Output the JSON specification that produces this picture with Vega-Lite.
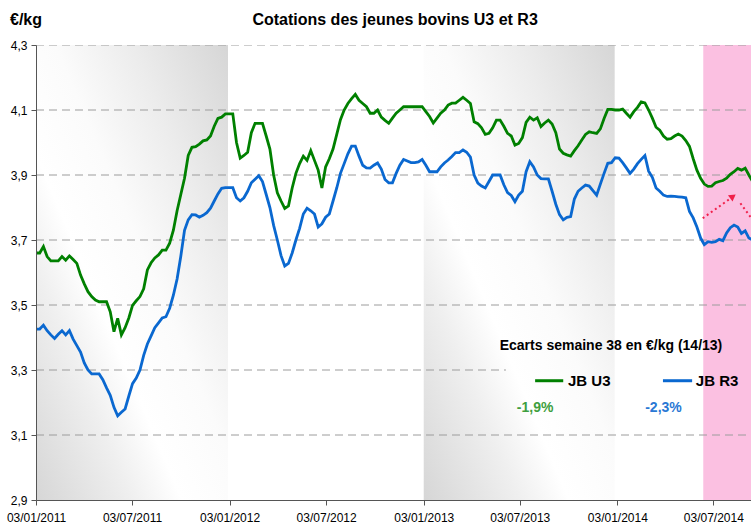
{
"$schema": "https://vega.github.io/schema/vega-lite/v6.json",
"width": 715, "height": 455,
"autosize": {"type": "none"},
"padding": {"left": 36, "top": 45, "right": 0, "bottom": 27},
"background": "white",
"config": {"view": {"stroke": null}, "font": "Liberation Sans"},
"datasets": {
"series": [
{"d":"2011-01-03","U3":3.66,"R3":3.426},{"d":"2011-01-10","U3":3.66,"R3":3.426},{"d":"2011-01-17","U3":3.68,"R3":3.438},{"d":"2011-01-24","U3":3.649,"R3":3.421},{"d":"2011-01-31","U3":3.636,"R3":3.408},{"d":"2011-02-07","U3":3.636,"R3":3.397},{"d":"2011-02-14","U3":3.636,"R3":3.41},{"d":"2011-02-21","U3":3.649,"R3":3.421},{"d":"2011-02-28","U3":3.638,"R3":3.408},{"d":"2011-03-07","U3":3.651,"R3":3.421},{"d":"2011-03-14","U3":3.64,"R3":3.395},{"d":"2011-03-21","U3":3.628,"R3":3.375},{"d":"2011-03-28","U3":3.592,"R3":3.355},{"d":"2011-04-04","U3":3.565,"R3":3.322},{"d":"2011-04-11","U3":3.541,"R3":3.30},{"d":"2011-04-18","U3":3.526,"R3":3.288},{"d":"2011-04-25","U3":3.515,"R3":3.288},{"d":"2011-05-02","U3":3.51,"R3":3.288},{"d":"2011-05-09","U3":3.51,"R3":3.27},{"d":"2011-05-16","U3":3.51,"R3":3.245},{"d":"2011-05-23","U3":3.479,"R3":3.222},{"d":"2011-05-30","U3":3.418,"R3":3.185},{"d":"2011-06-06","U3":3.459,"R3":3.159},{"d":"2011-06-13","U3":3.408,"R3":3.17},{"d":"2011-06-20","U3":3.43,"R3":3.18},{"d":"2011-06-27","U3":3.46,"R3":3.22},{"d":"2011-07-04","U3":3.499,"R3":3.258},{"d":"2011-07-11","U3":3.513,"R3":3.275},{"d":"2011-07-18","U3":3.526,"R3":3.30},{"d":"2011-07-25","U3":3.55,"R3":3.345},{"d":"2011-08-01","U3":3.608,"R3":3.38},{"d":"2011-08-08","U3":3.63,"R3":3.405},{"d":"2011-08-15","U3":3.645,"R3":3.43},{"d":"2011-08-22","U3":3.654,"R3":3.445},{"d":"2011-08-29","U3":3.669,"R3":3.46},{"d":"2011-09-05","U3":3.669,"R3":3.464},{"d":"2011-09-12","U3":3.69,"R3":3.49},{"d":"2011-09-19","U3":3.73,"R3":3.53},{"d":"2011-09-26","U3":3.79,"R3":3.58},{"d":"2011-10-03","U3":3.84,"R3":3.65},{"d":"2011-10-10","U3":3.89,"R3":3.73},{"d":"2011-10-17","U3":3.96,"R3":3.762},{"d":"2011-10-24","U3":3.985,"R3":3.778},{"d":"2011-10-31","U3":3.987,"R3":3.777},{"d":"2011-11-07","U3":3.995,"R3":3.77},{"d":"2011-11-14","U3":4.005,"R3":3.776},{"d":"2011-11-21","U3":4.008,"R3":3.784},{"d":"2011-11-28","U3":4.02,"R3":3.798},{"d":"2011-12-05","U3":4.05,"R3":3.82},{"d":"2011-12-12","U3":4.074,"R3":3.842},{"d":"2011-12-19","U3":4.078,"R3":3.859},{"d":"2011-12-26","U3":4.088,"R3":3.861},
{"d":"2012-01-02","U3":4.088,"R3":3.861},{"d":"2012-01-09","U3":4.088,"R3":3.861},{"d":"2012-01-16","U3":4.0,"R3":3.83},{"d":"2012-01-23","U3":3.952,"R3":3.82},{"d":"2012-01-30","U3":3.96,"R3":3.83},{"d":"2012-02-06","U3":3.97,"R3":3.85},{"d":"2012-02-13","U3":4.03,"R3":3.876},{"d":"2012-02-20","U3":4.059,"R3":3.887},{"d":"2012-02-27","U3":4.059,"R3":3.898},{"d":"2012-03-05","U3":4.059,"R3":3.88},{"d":"2012-03-12","U3":4.02,"R3":3.84},{"d":"2012-03-19","U3":3.98,"R3":3.80},{"d":"2012-03-26","U3":3.90,"R3":3.745},{"d":"2012-04-02","U3":3.845,"R3":3.70},{"d":"2012-04-09","U3":3.82,"R3":3.652},{"d":"2012-04-16","U3":3.797,"R3":3.62},{"d":"2012-04-23","U3":3.805,"R3":3.628},{"d":"2012-04-30","U3":3.86,"R3":3.66},{"d":"2012-05-07","U3":3.905,"R3":3.70},{"d":"2012-05-14","U3":3.935,"R3":3.736},{"d":"2012-05-21","U3":3.958,"R3":3.78},{"d":"2012-05-28","U3":3.945,"R3":3.798},{"d":"2012-06-04","U3":3.975,"R3":3.79},{"d":"2012-06-11","U3":3.945,"R3":3.78},{"d":"2012-06-18","U3":3.915,"R3":3.74},{"d":"2012-06-25","U3":3.86,"R3":3.75},{"d":"2012-07-02","U3":3.925,"R3":3.77},{"d":"2012-07-09","U3":3.95,"R3":3.78},{"d":"2012-07-16","U3":3.98,"R3":3.82},{"d":"2012-07-23","U3":4.025,"R3":3.86},{"d":"2012-07-30","U3":4.07,"R3":3.905},{"d":"2012-08-06","U3":4.10,"R3":3.935},{"d":"2012-08-13","U3":4.12,"R3":3.965},{"d":"2012-08-20","U3":4.135,"R3":3.989},{"d":"2012-08-27","U3":4.148,"R3":3.989},{"d":"2012-09-03","U3":4.13,"R3":3.958},{"d":"2012-09-10","U3":4.12,"R3":3.93},{"d":"2012-09-17","U3":4.11,"R3":3.922},{"d":"2012-09-24","U3":4.09,"R3":3.921},{"d":"2012-10-01","U3":4.09,"R3":3.93},{"d":"2012-10-08","U3":4.10,"R3":3.937},{"d":"2012-10-15","U3":4.078,"R3":3.918},{"d":"2012-10-22","U3":4.068,"R3":3.886},{"d":"2012-10-29","U3":4.059,"R3":3.876},{"d":"2012-11-05","U3":4.075,"R3":3.876},{"d":"2012-11-12","U3":4.09,"R3":3.905},{"d":"2012-11-19","U3":4.10,"R3":3.93},{"d":"2012-11-26","U3":4.11,"R3":3.948},{"d":"2012-12-03","U3":4.11,"R3":3.943},{"d":"2012-12-10","U3":4.11,"R3":3.938},{"d":"2012-12-17","U3":4.11,"R3":3.938},{"d":"2012-12-24","U3":4.11,"R3":3.94},{"d":"2012-12-31","U3":4.11,"R3":3.948},
{"d":"2013-01-07","U3":4.095,"R3":3.93},{"d":"2013-01-14","U3":4.08,"R3":3.91},{"d":"2013-01-21","U3":4.06,"R3":3.91},{"d":"2013-01-28","U3":4.075,"R3":3.91},{"d":"2013-02-04","U3":4.09,"R3":3.925},{"d":"2013-02-11","U3":4.10,"R3":3.937},{"d":"2013-02-18","U3":4.115,"R3":3.946},{"d":"2013-02-25","U3":4.121,"R3":3.957},{"d":"2013-03-04","U3":4.121,"R3":3.969},{"d":"2013-03-11","U3":4.13,"R3":3.969},{"d":"2013-03-18","U3":4.139,"R3":3.977},{"d":"2013-03-25","U3":4.13,"R3":3.97},{"d":"2013-04-01","U3":4.12,"R3":3.955},{"d":"2013-04-08","U3":4.064,"R3":3.90},{"d":"2013-04-15","U3":4.058,"R3":3.875},{"d":"2013-04-22","U3":4.045,"R3":3.866},{"d":"2013-04-29","U3":4.025,"R3":3.86},{"d":"2013-05-06","U3":4.028,"R3":3.88},{"d":"2013-05-13","U3":4.045,"R3":3.90},{"d":"2013-05-20","U3":4.069,"R3":3.90},{"d":"2013-05-27","U3":4.069,"R3":3.90},{"d":"2013-06-03","U3":4.05,"R3":3.87},{"d":"2013-06-10","U3":4.028,"R3":3.846},{"d":"2013-06-17","U3":4.02,"R3":3.837},{"d":"2013-06-24","U3":3.992,"R3":3.818},{"d":"2013-07-01","U3":3.997,"R3":3.838},{"d":"2013-07-08","U3":4.015,"R3":3.85},{"d":"2013-07-15","U3":4.062,"R3":3.91},{"d":"2013-07-22","U3":4.078,"R3":3.941},{"d":"2013-07-29","U3":4.069,"R3":3.925},{"d":"2013-08-05","U3":4.076,"R3":3.90},{"d":"2013-08-12","U3":4.049,"R3":3.889},{"d":"2013-08-19","U3":4.06,"R3":3.888},{"d":"2013-08-26","U3":4.069,"R3":3.888},{"d":"2013-09-02","U3":4.057,"R3":3.85},{"d":"2013-09-09","U3":4.03,"R3":3.81},{"d":"2013-09-16","U3":3.98,"R3":3.778},{"d":"2013-09-23","U3":3.967,"R3":3.762},{"d":"2013-09-30","U3":3.962,"R3":3.77},{"d":"2013-10-07","U3":3.958,"R3":3.772},{"d":"2013-10-14","U3":3.975,"R3":3.826},{"d":"2013-10-21","U3":3.99,"R3":3.85},{"d":"2013-10-28","U3":4.008,"R3":3.86},{"d":"2013-11-04","U3":4.025,"R3":3.869},{"d":"2013-11-11","U3":4.033,"R3":3.866},{"d":"2013-11-18","U3":4.03,"R3":3.852},{"d":"2013-11-25","U3":4.028,"R3":3.838},{"d":"2013-12-02","U3":4.042,"R3":3.872},{"d":"2013-12-09","U3":4.074,"R3":3.905},{"d":"2013-12-16","U3":4.102,"R3":3.936},{"d":"2013-12-23","U3":4.102,"R3":3.938},{"d":"2013-12-30","U3":4.10,"R3":3.953},
{"d":"2014-01-06","U3":4.10,"R3":3.952},{"d":"2014-01-13","U3":4.103,"R3":3.938},{"d":"2014-01-20","U3":4.09,"R3":3.922},{"d":"2014-01-27","U3":4.078,"R3":3.905},{"d":"2014-02-03","U3":4.095,"R3":3.918},{"d":"2014-02-10","U3":4.108,"R3":3.935},{"d":"2014-02-17","U3":4.125,"R3":3.948},{"d":"2014-02-24","U3":4.122,"R3":3.96},{"d":"2014-03-03","U3":4.10,"R3":3.912},{"d":"2014-03-10","U3":4.075,"R3":3.893},{"d":"2014-03-17","U3":4.047,"R3":3.86},{"d":"2014-03-24","U3":4.038,"R3":3.85},{"d":"2014-03-31","U3":4.02,"R3":3.838},{"d":"2014-04-07","U3":4.01,"R3":3.834},{"d":"2014-04-14","U3":4.012,"R3":3.835},{"d":"2014-04-21","U3":4.02,"R3":3.834},{"d":"2014-04-28","U3":4.026,"R3":3.833},{"d":"2014-05-05","U3":4.02,"R3":3.832},{"d":"2014-05-12","U3":4.006,"R3":3.83},{"d":"2014-05-19","U3":3.988,"R3":3.788},{"d":"2014-05-26","U3":3.95,"R3":3.768},{"d":"2014-06-02","U3":3.915,"R3":3.74},{"d":"2014-06-09","U3":3.89,"R3":3.706},{"d":"2014-06-16","U3":3.872,"R3":3.686},{"d":"2014-06-23","U3":3.865,"R3":3.695},{"d":"2014-06-30","U3":3.866,"R3":3.693},{"d":"2014-07-07","U3":3.876,"R3":3.695},{"d":"2014-07-14","U3":3.88,"R3":3.702},{"d":"2014-07-21","U3":3.883,"R3":3.698},{"d":"2014-07-28","U3":3.89,"R3":3.722},{"d":"2014-08-04","U3":3.902,"R3":3.738},{"d":"2014-08-11","U3":3.91,"R3":3.746},{"d":"2014-08-18","U3":3.92,"R3":3.74},{"d":"2014-08-25","U3":3.915,"R3":3.72},{"d":"2014-09-01","U3":3.921,"R3":3.728},{"d":"2014-09-08","U3":3.90,"R3":3.706},{"d":"2014-09-15","U3":3.88,"R3":3.70}
],
"bands": [{"a":"2011-01-03","b":"2011-12-31","lo":2.9,"hi":4.3},{"a":"2013-01-03","b":"2013-12-29","lo":2.9,"hi":4.3}],
"pink": [{"a":"2014-06-14","b":"2014-09-20","lo":2.9,"hi":4.3}],
"grid": [
{"v":4.3,"a":"2011-01-03","b":"2014-09-20"},{"v":4.1,"a":"2011-01-03","b":"2014-09-20"},{"v":3.9,"a":"2011-01-03","b":"2014-09-20"},{"v":3.7,"a":"2011-01-03","b":"2014-09-20"},{"v":3.5,"a":"2011-01-03","b":"2014-09-20"},{"v":3.3,"a":"2011-01-03","b":"2013-06-07"},{"v":3.1,"a":"2011-01-03","b":"2014-09-20"}
],
"arrows": [{"id":"a","d":"2014-06-13","v":3.767},{"id":"a","d":"2014-08-07","v":3.831},{"id":"b","d":"2014-08-23","v":3.813},{"id":"b","d":"2014-09-16","v":3.76}],
"heads": [{"d":"2014-08-09","v":3.834}],
"keys": [{"serie":"U3","a":"2013-08-01","b":"2013-09-23","v":3.267},{"serie":"R3","a":"2014-03-30","b":"2014-05-24","v":3.267}],
"keylabels": [{"t":"JB U3","d":"2013-10-02","v":3.267},{"t":"JB R3","d":"2014-05-31","v":3.267}],
"heading": [{"t":"Ecarts semaine 38 en €/kg (14/13)","d":"2013-12-22","v":3.374}],
"unit": [{"t":"€/kg","d":"2010-11-15","v":4.377}],
"maintitle": [{"t":"Cotations des jeunes bovins U3 et R3","d":"2012-11-10","v":4.377}],
"pctU3": [{"t":"-1,9%","d":"2013-08-01","v":3.183}],
"pctR3": [{"t":"-2,3%","d":"2014-03-31","v":3.183}]
},
"layer": [
{"data": {"name": "bands"},
 "mark": {"type": "rect", "color": {"gradient": "linear", "x1": 0, "y1": 1, "x2": 1, "y2": 0, "stops": [{"offset": 0, "color": "#d6d6d6"}, {"offset": 0.25, "color": "#efefef"}, {"offset": 0.38, "color": "#ffffff"}, {"offset": 0.55, "color": "#fbfbfb"}, {"offset": 0.75, "color": "#ececec"}, {"offset": 1, "color": "#d6d6d6"}]}},
 "encoding": {"x": {"field": "a", "type": "temporal", "title": null}, "x2": {"field": "b"}, "y": {"field": "hi", "type": "quantitative", "title": null}, "y2": {"field": "lo"}}},
{"data": {"name": "pink"},
 "mark": {"type": "rect", "color": "#fbc0e1", "clip": true},
 "encoding": {"x": {"field": "a", "type": "temporal", "title": null}, "x2": {"field": "b"}, "y": {"field": "hi", "type": "quantitative", "title": null}, "y2": {"field": "lo"}}},
{"data": {"name": "grid"},
 "mark": {"type": "rule", "color": "#9c9c9c", "strokeDash": [8, 5], "strokeWidth": 1, "clip": true},
 "encoding": {"x": {"field": "a", "type": "temporal", "title": null}, "x2": {"field": "b"}, "y": {"field": "v", "type": "quantitative", "title": null}}},
{"data": {"name": "series"},
 "transform": [{"fold": ["U3", "R3"], "as": ["serie", "val"]}],
 "mark": {"type": "line", "strokeWidth": 2.8, "clip": true},
 "encoding": {
  "x": {"field": "d", "type": "temporal", "title": null,
        "scale": {"type": "utc", "domain": [{"year": 2011, "month": 1, "date": 3, "utc": true}, {"year": 2014, "month": 9, "date": 12, "utc": true}]},
        "axis": {"values": [{"year":2011,"month":1,"date":3,"utc":true},{"year":2011,"month":7,"date":3,"utc":true},{"year":2012,"month":1,"date":3,"utc":true},{"year":2012,"month":7,"date":3,"utc":true},{"year":2013,"month":1,"date":3,"utc":true},{"year":2013,"month":7,"date":3,"utc":true},{"year":2014,"month":1,"date":3,"utc":true},{"year":2014,"month":7,"date":3,"utc":true}],
                 "format": "%d/%m/%Y", "grid": false, "domainColor": "#555555", "tickColor": "#555555", "tickSize": 5, "labelFont": "Liberation Sans", "labelFontSize": 12, "labelColor": "#000000", "labelPadding": 7, "labelFlush": false, "labelOverlap": false, "zindex": 1}},
  "y": {"field": "val", "type": "quantitative", "title": null,
        "scale": {"domain": [2.9, 4.3], "nice": false, "zero": false},
        "axis": {"values": [2.9, 3.1, 3.3, 3.5, 3.7, 3.9, 4.1, 4.3], "labelExpr": "replace(format(datum.value, '.1f'), '.', ',')", "grid": false, "domainColor": "#555555", "tickColor": "#555555", "tickSize": 5, "labelFont": "Liberation Sans", "labelFontSize": 12, "labelColor": "#000000", "labelPadding": 4, "zindex": 1}},
  "color": {"field": "serie", "type": "nominal", "scale": {"domain": ["U3", "R3"], "range": ["#008000", "#0a68d0"]}, "legend": null}}},
{"data": {"name": "arrows"},
 "mark": {"type": "line", "color": "#f0204a", "strokeWidth": 2, "strokeDash": [2, 3], "clip": true},
 "encoding": {"x": {"field": "d", "type": "temporal", "title": null}, "y": {"field": "v", "type": "quantitative", "title": null}, "detail": {"field": "id"}}},
{"data": {"name": "heads"},
 "mark": {"type": "point", "shape": "triangle-right", "filled": true, "color": "#f0204a", "size": 60, "angle": -36, "opacity": 1},
 "encoding": {"x": {"field": "d", "type": "temporal", "title": null}, "y": {"field": "v", "type": "quantitative", "title": null}}},
{"data": {"name": "keys"},
 "mark": {"type": "rule", "strokeWidth": 3},
 "encoding": {"x": {"field": "a", "type": "temporal", "title": null}, "x2": {"field": "b"}, "y": {"field": "v", "type": "quantitative", "title": null}, "color": {"field": "serie", "type": "nominal", "legend": null}}},
{"data": {"name": "keylabels"},
 "mark": {"type": "text", "align": "left", "baseline": "middle", "font": "Liberation Sans", "fontSize": 15, "fontWeight": "bold", "color": "#000000"},
 "encoding": {"x": {"field": "d", "type": "temporal", "title": null}, "y": {"field": "v", "type": "quantitative", "title": null}, "text": {"field": "t"}}},
{"data": {"name": "heading"},
 "mark": {"type": "text", "align": "center", "baseline": "middle", "font": "Liberation Sans", "fontSize": 14, "fontWeight": "bold", "color": "#000000"},
 "encoding": {"x": {"field": "d", "type": "temporal", "title": null}, "y": {"field": "v", "type": "quantitative", "title": null}, "text": {"field": "t"}}},
{"data": {"name": "unit"},
 "mark": {"type": "text", "align": "left", "baseline": "middle", "font": "Liberation Sans", "fontSize": 16, "fontWeight": "bold", "color": "#000000"},
 "encoding": {"x": {"field": "d", "type": "temporal", "title": null}, "y": {"field": "v", "type": "quantitative", "title": null}, "text": {"field": "t"}}},
{"data": {"name": "maintitle"},
 "mark": {"type": "text", "align": "center", "baseline": "middle", "font": "Liberation Sans", "fontSize": 16, "fontWeight": "bold", "color": "#000000"},
 "encoding": {"x": {"field": "d", "type": "temporal", "title": null}, "y": {"field": "v", "type": "quantitative", "title": null}, "text": {"field": "t"}}},
{"data": {"name": "pctU3"},
 "mark": {"type": "text", "align": "center", "baseline": "middle", "font": "Liberation Sans", "fontSize": 14, "fontWeight": "bold", "color": "#3f9f3f"},
 "encoding": {"x": {"field": "d", "type": "temporal", "title": null}, "y": {"field": "v", "type": "quantitative", "title": null}, "text": {"field": "t"}}},
{"data": {"name": "pctR3"},
 "mark": {"type": "text", "align": "center", "baseline": "middle", "font": "Liberation Sans", "fontSize": 14, "fontWeight": "bold", "color": "#2a78d4"},
 "encoding": {"x": {"field": "d", "type": "temporal", "title": null}, "y": {"field": "v", "type": "quantitative", "title": null}, "text": {"field": "t"}}}
]
}
